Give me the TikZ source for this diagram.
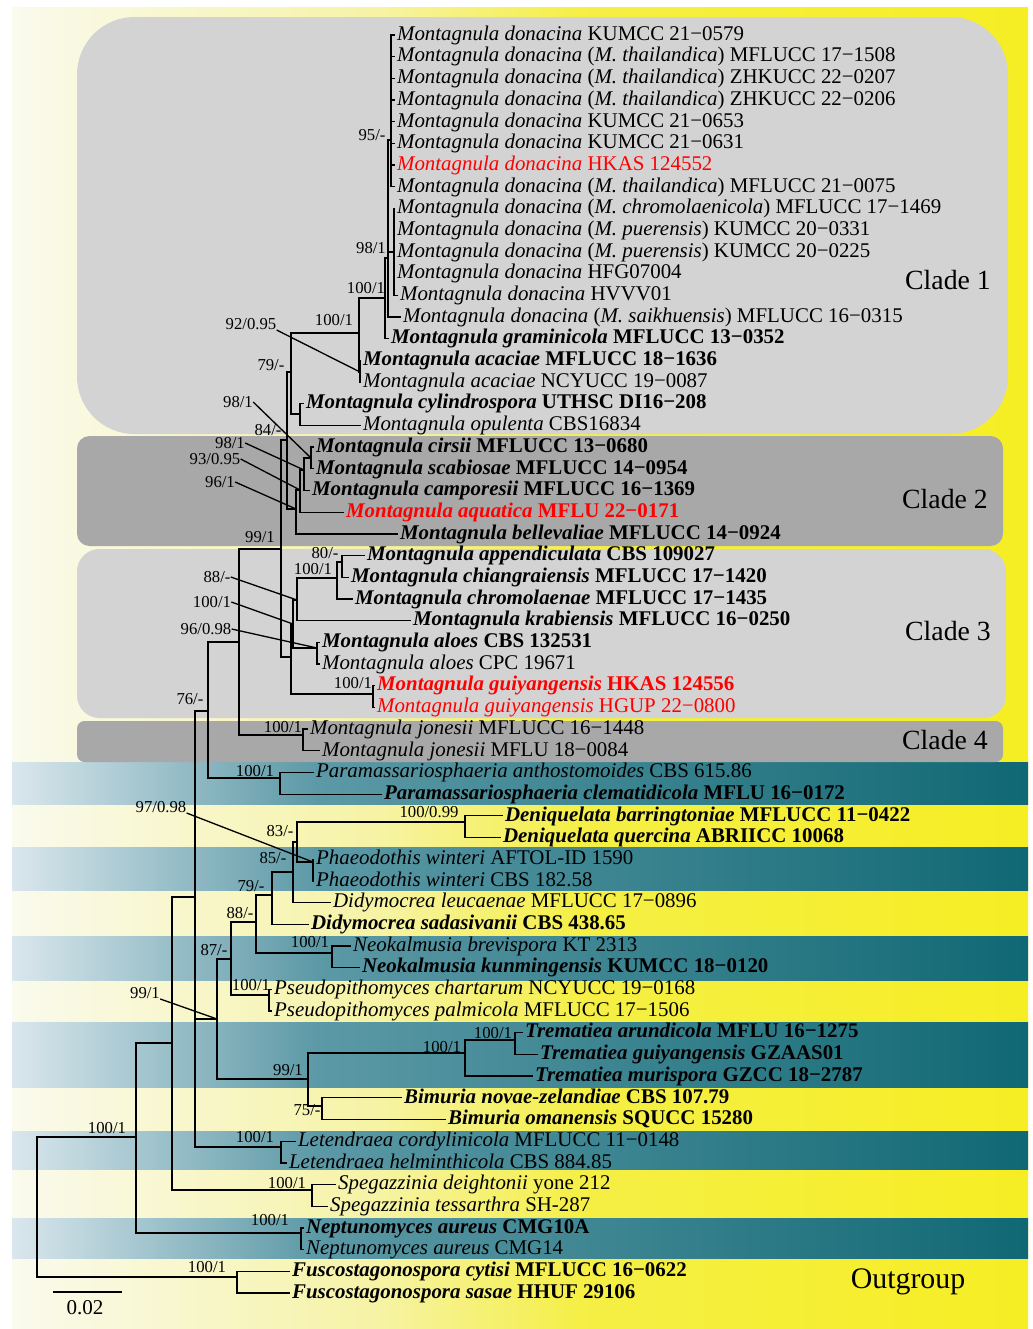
\documentclass[tikz,border=0pt]{standalone}
\usepackage{fontspec}
\setmainfont{Liberation Serif}
\usetikzlibrary{positioning,calc}

\definecolor{cladelight}{RGB}{211,211,211}
\definecolor{cladedark}{RGB}{168,168,168}
\definecolor{yl0}{RGB}{250,250,238}
\definecolor{yl1}{RGB}{246,243,165}
\definecolor{yl2}{RGB}{245,239,70}
\definecolor{yl3}{RGB}{246,238,35}
\definecolor{tl0}{RGB}{218,231,237}
\definecolor{tl1}{RGB}{92,153,166}
\definecolor{tl2}{RGB}{16,104,116}
\definecolor{newred}{RGB}{255,0,0}

\pgfdeclarehorizontalshading{yellowband}{100bp}{color(0bp)=(yl0); color(25bp)=(yl0); color(43bp)=(yl1); color(53bp)=(yl2); color(75bp)=(yl3); color(100bp)=(yl3)}
\pgfdeclarehorizontalshading{tealband}{100bp}{color(0bp)=(tl0); color(25bp)=(tl0); color(40bp)=(tl1); color(75bp)=(tl2); color(100bp)=(tl2)}

\newcommand{\taxon}[2]{\textit{#1} #2}

\begin{document}
\begin{tikzpicture}[x=0.02cm, y=-0.02cm,
    branch/.style={line width=0.75pt},
    leaf/.style={anchor=west, inner xsep=1pt, inner ysep=0pt, text height=8.5pt, text depth=2.5pt, font=\fontsize{11.9}{13}\selectfont},
    leafb/.style={leaf, font=\fontsize{11.9}{13}\selectfont\bfseries},
    newtaxon/.style={text=newred},
    support/.style={inner sep=0pt, font=\fontsize{9.5}{11}\selectfont},
    cladename/.style={inner sep=0pt, font=\fontsize{15.8}{18}\selectfont}]
    \useasboundingbox (0,0) rectangle (1032,1329);

    % background and bands
    \shade[shading=yellowband] (12,7) rectangle (1028,1328);
    \foreach \ya/\yb in {762/804, 847/890, 936/980, 1022/1087, 1131/1169, 1218/1258}
        \shade[shading=tealband] (12,\ya) rectangle (1028,\yb);

    % clade boxes
    \fill[cladelight, rounded corners=1.15cm] (77,17) rectangle (1008,434);
    \fill[cladedark, rounded corners=0.25cm] (77,436) rectangle (1003,546);
    \fill[cladelight, rounded corners=0.45cm] (77,549) rectangle (1006,718);
    \fill[cladedark, rounded corners=0.15cm] (77,721) rectangle (1003,762);

    \node[cladename] (clade1) at (948,280) {Clade 1};
    \node[cladename] (clade2) at (945,499) {Clade 2};
    \node[cladename] (clade3) at (948,631) {Clade 3};
    \node[cladename] (clade4) at (945,740) {Clade 4};
    \node[cladename, font=\fontsize{17}{20}\selectfont] (outgroup) at (908,1282) {Outgroup};

    % taxa
    \node[leaf] (t1) at (395,35.0) {\taxon{Montagnula donacina}{KUMCC 21−0579}};
    \node[leaf] (t2) at (395,56.7) {\taxon{Montagnula donacina}{(\textit{M. thailandica}) MFLUCC 17−1508}};
    \node[leaf] (t3) at (395,78.4) {\taxon{Montagnula donacina}{(\textit{M. thailandica}) ZHKUCC 22−0207}};
    \node[leaf] (t4) at (395,100.1) {\taxon{Montagnula donacina}{(\textit{M. thailandica}) ZHKUCC 22−0206}};
    \node[leaf] (t5) at (395,121.8) {\taxon{Montagnula donacina}{KUMCC 21−0653}};
    \node[leaf] (t6) at (395,143.5) {\taxon{Montagnula donacina}{KUMCC 21−0631}};
    \node[leaf, newtaxon] (t7) at (395,165.1) {\taxon{Montagnula donacina}{HKAS 124552}};
    \node[leaf] (t8) at (395,186.8) {\taxon{Montagnula donacina}{(\textit{M. thailandica}) MFLUCC 21−0075}};
    \node[leaf] (t9) at (395,208.5) {\taxon{Montagnula donacina}{(\textit{M. chromolaenicola}) MFLUCC 17−1469}};
    \node[leaf] (t10) at (395,230.2) {\taxon{Montagnula donacina}{(\textit{M. puerensis}) KUMCC 20−0331}};
    \node[leaf] (t11) at (395,251.9) {\taxon{Montagnula donacina}{(\textit{M. puerensis}) KUMCC 20−0225}};
    \node[leaf] (t12) at (395,273.6) {\taxon{Montagnula donacina}{HFG07004}};
    \node[leaf] (t13) at (398,295.3) {\taxon{Montagnula donacina}{HVVV01}};
    \node[leaf] (t14) at (401,317.0) {\taxon{Montagnula donacina}{(\textit{M. saikhuensis}) MFLUCC 16−0315}};
    \node[leafb] (t15) at (389,338.7) {\taxon{Montagnula graminicola}{MFLUCC 13−0352}};
    \node[leafb] (t16) at (361,360.4) {\taxon{Montagnula acaciae}{MFLUCC 18−1636}};
    \node[leaf] (t17) at (361,382.0) {\taxon{Montagnula acaciae}{NCYUCC 19−0087}};
    \node[leafb] (t18) at (304,403.7) {\taxon{Montagnula cylindrospora}{UTHSC DI16−208}};
    \node[leaf] (t19) at (361,425.4) {\taxon{Montagnula opulenta}{CBS16834}};
    \node[leafb] (t20) at (314,447.1) {\taxon{Montagnula cirsii}{MFLUCC 13−0680}};
    \node[leafb] (t21) at (314,468.8) {\taxon{Montagnula scabiosae}{MFLUCC 14−0954}};
    \node[leafb] (t22) at (310,490.5) {\taxon{Montagnula camporesii}{MFLUCC 16−1369}};
    \node[leafb, newtaxon] (t23) at (344,512.2) {\taxon{Montagnula aquatica}{MFLU 22−0171}};
    \node[leafb] (t24) at (398,533.9) {\taxon{Montagnula bellevaliae}{MFLUCC 14−0924}};
    \node[leafb] (t25) at (365,555.6) {\taxon{Montagnula appendiculata}{CBS 109027}};
    \node[leafb] (t26) at (349,577.3) {\taxon{Montagnula chiangraiensis}{MFLUCC 17−1420}};
    \node[leafb] (t27) at (353,598.9) {\taxon{Montagnula chromolaenae}{MFLUCC 17−1435}};
    \node[leafb] (t28) at (411,620.6) {\taxon{Montagnula krabiensis}{MFLUCC 16−0250}};
    \node[leafb] (t29) at (320,642.3) {\taxon{Montagnula aloes}{CBS 132531}};
    \node[leaf] (t30) at (320,664.0) {\taxon{Montagnula aloes}{CPC 19671}};
    \node[leafb, newtaxon] (t31) at (375,685.7) {\taxon{Montagnula guiyangensis}{HKAS 124556}};
    \node[leaf, newtaxon] (t32) at (375,707.4) {\taxon{Montagnula guiyangensis}{HGUP 22−0800}};
    \node[leaf] (t33) at (308,729.1) {\taxon{Montagnula jonesii}{MFLUCC 16−1448}};
    \node[leaf] (t34) at (320,750.8) {\taxon{Montagnula jonesii}{MFLU 18−0084}};
    \node[leaf] (t35) at (314,772.5) {\taxon{Paramassariosphaeria anthostomoides}{CBS 615.86}};
    \node[leafb] (t36) at (382,794.2) {\taxon{Paramassariosphaeria clematidicola}{MFLU 16−0172}};
    \node[leafb] (t37) at (503,815.8) {\taxon{Deniquelata barringtoniae}{MFLUCC 11−0422}};
    \node[leafb] (t38) at (501,837.5) {\taxon{Deniquelata quercina}{ABRIICC 10068}};
    \node[leaf] (t39) at (314,859.2) {\taxon{Phaeodothis winteri}{AFTOL-ID 1590}};
    \node[leaf] (t40) at (314,880.9) {\taxon{Phaeodothis winteri}{CBS 182.58}};
    \node[leaf] (t41) at (331,902.6) {\taxon{Didymocrea leucaenae}{MFLUCC 17−0896}};
    \node[leafb] (t42) at (309,924.3) {\taxon{Didymocrea sadasivanii}{CBS 438.65}};
    \node[leaf] (t43) at (351,946.0) {\taxon{Neokalmusia brevispora}{KT 2313}};
    \node[leafb] (t44) at (360,967.7) {\taxon{Neokalmusia kunmingensis}{KUMCC 18−0120}};
    \node[leaf] (t45) at (272,989.4) {\taxon{Pseudopithomyces chartarum}{NCYUCC 19−0168}};
    \node[leaf] (t46) at (272,1011.1) {\taxon{Pseudopithomyces palmicola}{MFLUCC 17−1506}};
    \node[leafb] (t47) at (523,1032.7) {\taxon{Trematiea arundicola}{MFLU 16−1275}};
    \node[leafb] (t48) at (538,1054.4) {\taxon{Trematiea guiyangensis}{GZAAS01}};
    \node[leafb] (t49) at (533,1076.1) {\taxon{Trematiea murispora}{GZCC 18−2787}};
    \node[leafb] (t50) at (402,1097.8) {\taxon{Bimuria novae-zelandiae}{CBS 107.79}};
    \node[leafb] (t51) at (446,1119.5) {\taxon{Bimuria omanensis}{SQUCC 15280}};
    \node[leaf] (t52) at (296,1141.2) {\taxon{Letendraea cordylinicola}{MFLUCC 11−0148}};
    \node[leaf] (t53) at (287,1162.9) {\taxon{Letendraea helminthicola}{CBS 884.85}};
    \node[leaf] (t54) at (336,1184.6) {\taxon{Spegazzinia deightonii}{yone 212}};
    \node[leaf] (t55) at (328,1206.3) {\taxon{Spegazzinia tessarthra}{SH-287}};
    \node[leafb] (t56) at (304,1228.0) {\taxon{Neptunomyces aureus}{CMG10A}};
    \node[leaf] (t57) at (304,1249.6) {\taxon{Neptunomyces aureus}{CMG14}};
    \node[leafb] (t58) at (290,1271.3) {\taxon{Fuscostagonospora cytisi}{MFLUCC 16−0622}};
    \node[leafb] (t59) at (290,1293.0) {\taxon{Fuscostagonospora sasae}{HHUF 29106}};

    % internal nodes
    \coordinate (dona) at (391,140);
    \coordinate (donb) at (394,252);
    \coordinate (donc) at (388,258);
    \coordinate (gram) at (385,298);
    \coordinate (acac) at (360,372);
    \coordinate (acgr) at (359,333);
    \coordinate (cyli) at (300,414);
    \coordinate (cl1) at (291,372);
    \coordinate (cirs) at (311,458);
    \coordinate (camp) at (304,470);
    \coordinate (aqua) at (300,490);
    \coordinate (cl2) at (296,509);
    \coordinate (cl12) at (287,440);
    \coordinate (appe) at (342,562);
    \coordinate (chro) at (337,578);
    \coordinate (krab) at (297,600);
    \coordinate (aloe) at (317,648);
    \coordinate (aloekr) at (293,624);
    \coordinate (guiy) at (373,694);
    \coordinate (cl3) at (291,657);
    \coordinate (cl123) at (281,549);
    \coordinate (cl4) at (303,735);
    \coordinate (mont) at (239,642);
    \coordinate (para) at (280,778);
    \coordinate (montpara) at (208,711);
    \coordinate (deni) at (465,822);
    \coordinate (phae) at (313,862);
    \coordinate (denph) at (297,842);
    \coordinate (didy) at (293,872);
    \coordinate (didyb) at (272,895);
    \coordinate (neok) at (332,953);
    \coordinate (didneo) at (256,922);
    \coordinate (pseu) at (269,995);
    \coordinate (grpe) at (231,959);
    \coordinate (trea) at (515,1040);
    \coordinate (trem) at (465,1053);
    \coordinate (bimu) at (322,1106);
    \coordinate (trebim) at (308,1079);
    \coordinate (grpd) at (217,1019);
    \coordinate (lete) at (281,1147);
    \coordinate (grpb) at (195,897);
    \coordinate (speg) at (312,1190);
    \coordinate (grpa) at (172,1043);
    \coordinate (nept) at (301,1233);
    \coordinate (ingr) at (136,1137);
    \coordinate (fusc) at (237,1277);
    \coordinate (root) at (37,1207);

    % branches
    \foreach \i in {1,...,8} \draw[branch] (dona) |- (t\i.west);
    \foreach \i in {9,...,13} \draw[branch] (donb) |- (t\i.west);
    \draw[branch] (donc) |- (dona);
    \draw[branch] (donc) |- (donb);
    \draw[branch] (donc) |- (t14.west);
    \draw[branch] (gram) |- (donc);
    \draw[branch] (gram) |- (t15.west);
    \draw[branch] (acac) |- (t16.west);
    \draw[branch] (acac) |- (t17.west);
    \draw[branch] (acgr) |- (gram);
    \draw[branch] (acgr) |- (acac);
    \draw[branch] (cyli) |- (t18.west);
    \draw[branch] (cyli) |- (t19.west);
    \draw[branch] (cl1) |- (acgr);
    \draw[branch] (cl1) |- (cyli);
    \draw[branch] (cirs) |- (t20.west);
    \draw[branch] (cirs) |- (t21.west);
    \draw[branch] (camp) |- (cirs);
    \draw[branch] (camp) |- (t22.west);
    \draw[branch] (aqua) |- (camp);
    \draw[branch] (aqua) |- (t23.west);
    \draw[branch] (cl2) |- (aqua);
    \draw[branch] (cl2) |- (t24.west);
    \draw[branch] (cl12) |- (cl1);
    \draw[branch] (cl12) |- (cl2);
    \draw[branch] (appe) |- (t25.west);
    \draw[branch] (appe) |- (t26.west);
    \draw[branch] (chro) |- (appe);
    \draw[branch] (chro) |- (t27.west);
    \draw[branch] (krab) |- (chro);
    \draw[branch] (krab) |- (t28.west);
    \draw[branch] (aloe) |- (t29.west);
    \draw[branch] (aloe) |- (t30.west);
    \draw[branch] (aloekr) |- (krab);
    \draw[branch] (aloekr) |- (aloe);
    \draw[branch] (guiy) |- (t31.west);
    \draw[branch] (guiy) |- (t32.west);
    \draw[branch] (cl3) |- (aloekr);
    \draw[branch] (cl3) |- (guiy);
    \draw[branch] (cl123) |- (cl12);
    \draw[branch] (cl123) |- (cl3);
    \draw[branch] (cl4) |- (t33.west);
    \draw[branch] (cl4) |- (t34.west);
    \draw[branch] (mont) |- (cl123);
    \draw[branch] (mont) |- (cl4);
    \draw[branch] (para) |- (t35.west);
    \draw[branch] (para) |- (t36.west);
    \draw[branch] (montpara) |- (mont);
    \draw[branch] (montpara) |- (para);
    \draw[branch] (deni) |- (t37.west);
    \draw[branch] (deni) |- (t38.west);
    \draw[branch] (phae) |- (t39.west);
    \draw[branch] (phae) |- (t40.west);
    \draw[branch] (denph) |- (deni);
    \draw[branch] (denph) |- (phae);
    \draw[branch] (didy) |- (denph);
    \draw[branch] (didy) |- (t41.west);
    \draw[branch] (didyb) |- (didy);
    \draw[branch] (didyb) |- (t42.west);
    \draw[branch] (neok) |- (t43.west);
    \draw[branch] (neok) |- (t44.west);
    \draw[branch] (didneo) |- (didyb);
    \draw[branch] (didneo) |- (neok);
    \draw[branch] (pseu) |- (t45.west);
    \draw[branch] (pseu) |- (t46.west);
    \draw[branch] (grpe) |- (didneo);
    \draw[branch] (grpe) |- (pseu);
    \draw[branch] (trea) |- (t47.west);
    \draw[branch] (trea) |- (t48.west);
    \draw[branch] (trem) |- (trea);
    \draw[branch] (trem) |- (t49.west);
    \draw[branch] (bimu) |- (t50.west);
    \draw[branch] (bimu) |- (t51.west);
    \draw[branch] (trebim) |- (trem);
    \draw[branch] (trebim) |- (bimu);
    \draw[branch] (grpd) |- (grpe);
    \draw[branch] (grpd) |- (trebim);
    \draw[branch] (lete) |- (t52.west);
    \draw[branch] (lete) |- (t53.west);
    \draw[branch] (grpb) |- (montpara);
    \draw[branch] (grpb) |- (grpd);
    \draw[branch] (grpb) |- (lete);
    \draw[branch] (speg) |- (t54.west);
    \draw[branch] (speg) |- (t55.west);
    \draw[branch] (grpa) |- (grpb);
    \draw[branch] (grpa) |- (speg);
    \draw[branch] (nept) |- (t56.west);
    \draw[branch] (nept) |- (t57.west);
    \draw[branch] (ingr) |- (grpa);
    \draw[branch] (ingr) |- (nept);
    \draw[branch] (fusc) |- (t58.west);
    \draw[branch] (fusc) |- (t59.west);
    \draw[branch] (root) |- (ingr);
    \draw[branch] (root) |- (fusc);

    % support values
    \node[support] (s-dona) at (372,135) {95/-};
    \node[support] (s-donc) at (371,248) {98/1};
    \node[support] (s-gram) at (366,288) {100/1};
    \node[support] (s-acgr) at (334,320) {100/1};
    \node[support] (s-acac) at (251,324) {92/0.95};
    \node[support] (s-cl1) at (271,365) {79/-};
    \node[support] (s-cirs) at (238,402) {98/1};
    \node[support] (s-cl12) at (268,430) {84/-};
    \node[support] (s-camp) at (230,443) {98/1};
    \node[support] (s-aqua) at (215,459) {93/0.95};
    \node[support] (s-cl2) at (220,482) {96/1};
    \node[support] (s-cl123) at (260,537) {99/1};
    \node[support] (s-appe) at (325,553) {80/-};
    \node[support] (s-chro) at (313,569) {100/1};
    \node[support] (s-krab) at (217,577) {88/-};
    \node[support] (s-aloekr) at (212,602) {100/1};
    \node[support] (s-aloe) at (206,629) {96/0.98};
    \node[support] (s-guiy) at (353,683) {100/1};
    \node[support] (s-montpara) at (190,699) {76/-};
    \node[support] (s-cl4) at (283,727) {100/1};
    \node[support] (s-para) at (255,771) {100/1};
    \node[support] (s-phae) at (161,807) {97/0.98};
    \node[support] (s-deni) at (429,812) {100/0.99};
    \node[support] (s-denph) at (280,831) {83/-};
    \node[support] (s-didy) at (273,858) {85/-};
    \node[support] (s-didyb) at (251,886) {79/-};
    \node[support] (s-didneo) at (240,913) {88/-};
    \node[support] (s-neok) at (310,942) {100/1};
    \node[support] (s-grpe) at (214,950) {87/-};
    \node[support] (s-pseu) at (251,985) {100/1};
    \node[support] (s-grpd) at (145,993) {99/1};
    \node[support] (s-trea) at (493,1033) {100/1};
    \node[support] (s-trem) at (442,1047) {100/1};
    \node[support] (s-trebim) at (288,1070) {99/1};
    \node[support] (s-bimu) at (307,1110) {75/-};
    \node[support] (s-lete) at (255,1137) {100/1};
    \node[support] (s-ingr) at (107,1128) {100/1};
    \node[support] (s-speg) at (287,1183) {100/1};
    \node[support] (s-nept) at (270,1220) {100/1};
    \node[support] (s-fusc) at (207,1267) {100/1};

    % leaders to small nodes
    \draw[branch] (s-acac.south east) -- (acac);
    \draw[branch] (s-cirs.east) -- (cirs);
    \draw[branch] (s-camp.east) -- (camp);
    \draw[branch] (s-aqua.east) -- (aqua);
    \draw[branch] (s-cl2.east) -- (cl2);
    \draw[branch] (s-krab.east) -- (krab);
    \draw[branch] (s-aloekr.east) -- (aloekr);
    \draw[branch] (s-aloe.east) -- (aloe);
    \draw[branch] (s-phae.south east) -- (phae);
    \draw[branch] (s-grpd.south east) -- (grpd);

    % scale bar
    \coordinate (scalea) at (53,1292);
    \coordinate (scaleb) at (122,1292);
    \draw[branch] (scalea) -- (scaleb);
    \node[font=\fontsize{12}{14}\selectfont, inner sep=0pt] (scale) at (85,1308) {0.02};
\end{tikzpicture}
\end{document}
